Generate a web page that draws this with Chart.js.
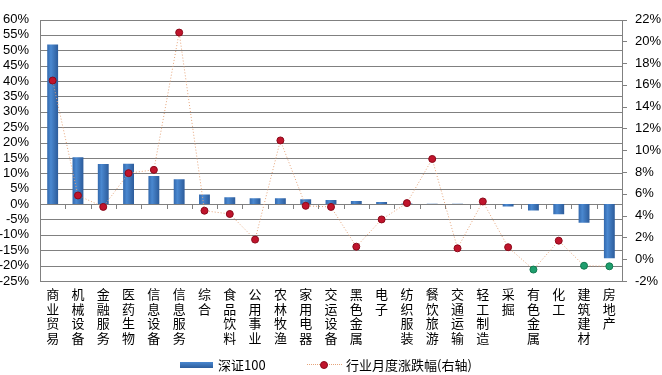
<!DOCTYPE html>
<html>
<head>
<meta charset="utf-8">
<script src="https://cdn.jsdelivr.net/npm/chart.js@4"></script>
<style>
  html, body { margin: 0; padding: 0; background: #fff; }
  #wrap { position: relative; width: 662px; height: 375px; }
  #legend { position: absolute; left: 0; top: 0; width: 662px; height: 375px; pointer-events: none;
            font-family: "Noto Sans CJK SC", "Noto Sans", sans-serif; font-size: 13px; color: #000; }
  .lg { position: absolute; }
</style>
</head>
<body>
<div id="wrap">
  <canvas id="chart" width="662" height="375"></canvas>
  <div id="legend">
    <div class="lg" style="left:180px;top:362px;width:33px;height:6px;background:linear-gradient(#4a88d0,#2c5d9c);"></div>
    <div class="lg" style="left:218px;top:355px;line-height:19px;">深证100</div>
    <div class="lg" style="left:307px;top:364px;width:35px;height:0;border-top:1px dotted #e5a47a;"></div>
    <div class="lg" style="left:320px;top:361px;width:6px;height:6px;border-radius:50%;background:#c0142c;border:1px solid #8a0a1a;"></div>
    <div class="lg" style="left:346px;top:355px;line-height:19px;">行业月度涨跌幅(右轴)</div>
  </div>
</div>
<script>
const categories = ['商业贸易', '机械设备', '金融服务', '医药生物', '信息设备', '信息服务', '综合',
  '食品饮料', '公用事业', '农林牧渔', '家用电器', '交运设备', '黑色金属', '电子', '纺织服装',
  '餐饮旅游', '交通运输', '轻工制造', '采掘', '有色金属', '化工', '建筑建材', '房地产'];

// 深证100 (left axis, %)
const szIndex = [51.9, 15.2, 13.0, 13.1, 9.1, 8.1, 3.1, 2.2, 1.9, 1.9, 1.6, 1.3, 1.0, 0.7, 0.2,
  0.1, 0.1, 0.05, -0.8, -2.1, -3.3, -6.1, -17.6];

// 行业月度涨跌幅 (right axis, %)
const industryChange = [16.4, 5.85, 4.8, 7.9, 8.2, 20.8, 4.45, 4.15, 1.8, 10.9, 4.9, 4.8, 1.15,
  3.65, 5.15, 9.2, 1.0, 5.3, 1.1, -0.95, 1.7, -0.6, -0.65];

const leftTicks = { min: -25, max: 60, step: 5 };
const rightTicks = { min: -2, max: 22, step: 2 };

const gridColor = '#808080';

function tickValues(t) {
  const out = [];
  for (let v = t.min; v <= t.max + 1e-9; v += t.step) out.push(v);
  return out;
}

// grid lines, axis lines and the small marks on the 0% line
const gridPlugin = {
  id: 'gridPlugin',
  beforeDatasetsDraw(chart) {
    const xs = chart.scales.x, ys = chart.scales.y, y1 = chart.scales.y1, ctx = chart.ctx;
    const a = chart.chartArea;
    const L = Math.round(a.left), R = Math.round(a.right);
    const T = Math.round(a.top), B = Math.round(a.bottom);
    ctx.save();
    ctx.fillStyle = gridColor;
    tickValues(leftTicks).forEach(v => {
      const y = Math.round(ys.getPixelForValue(v));
      ctx.fillRect(L, y, R - L + 1, 1);
    });
    tickValues(rightTicks).forEach(v => {
      const y = Math.round(y1.getPixelForValue(v));
      ctx.fillRect(R, y, 5, 1);
    });
    ctx.fillRect(L, T, 1, B - T + 1);
    ctx.fillRect(R, T, 1, B - T + 1);
    const y0 = Math.round(ys.getPixelForValue(0));
    const step = xs.width / categories.length;
    for (let i = 1; i < categories.length; i++) {
      const x = Math.round(xs.getPixelForValue(i) - step / 2);
      ctx.fillRect(x, y0, 1, 5);
    }
    ctx.restore();
  }
};

function barFill(c) {
  const chart = c.chart;
  const xs = chart.scales.x;
  if (c.type !== 'data' || !xs) return '#3a75c4';
  const cx = xs.getPixelForValue(c.dataIndex);
  if (!isFinite(cx)) return '#3a75c4';
  const g = chart.ctx.createLinearGradient(cx - 6, 0, cx + 6, 0);
  g.addColorStop(0, '#2f64a8');
  g.addColorStop(0.35, '#4a88d0');
  g.addColorStop(1, '#2a5896');
  return g;
}

new Chart(document.getElementById('chart'), {
  data: {
    labels: categories.map(s => s.split('')),
    datasets: [
      {
        type: 'line',
        label: '行业月度涨跌幅(右轴)',
        data: industryChange,
        yAxisID: 'y1',
        borderColor: '#e5a47a',
        borderWidth: 1,
        borderDash: [1, 2],
        tension: 0,
        pointRadius: 3.5,
        pointBorderWidth: 1,
        pointBackgroundColor: c => industryChange[c.dataIndex] < 0 ? '#1f9e6e' : '#c0142c',
        pointBorderColor: c => industryChange[c.dataIndex] < 0 ? '#137a50' : '#8a0a1a',
        order: 0
      },
      {
        type: 'bar',
        label: '深证100',
        data: szIndex,
        yAxisID: 'y',
        backgroundColor: barFill,
        barPercentage: 0.43,
        categoryPercentage: 1,
        order: 1
      }
    ]
  },
  options: {
    responsive: false,
    animation: false,
    layout: { padding: { top: 9, left: 0, right: 0, bottom: 0 } },
    plugins: { legend: { display: false }, tooltip: { enabled: false } },
    scales: {
      x: {
        offset: true,
        grid: { display: false, drawTicks: false },
        border: { display: false },
        ticks: {
          autoSkip: false,
          maxRotation: 0,
          minRotation: 0,
          padding: 6,
          color: '#000',
          font: { family: '"Noto Sans CJK SC", sans-serif', size: 13, lineHeight: 1.12 }
        },
        afterFit(s) { s.height = 94; }
      },
      y: {
        position: 'left',
        min: leftTicks.min,
        max: leftTicks.max,
        grid: { display: false },
        border: { display: false },
        ticks: {
          stepSize: leftTicks.step,
          autoSkip: false,
          padding: 3,
          color: '#000',
          font: { family: '"Liberation Sans", Arial, sans-serif', size: 13, lineHeight: 1 },
          callback: v => v + '%'
        },
        afterFit(s) { s.width = 40; }
      },
      y1: {
        position: 'right',
        min: rightTicks.min,
        max: rightTicks.max,
        grid: { display: false, drawTicks: false },
        border: { display: false },
        ticks: {
          stepSize: rightTicks.step,
          autoSkip: false,
          padding: 13,
          color: '#000',
          font: { family: '"Liberation Sans", Arial, sans-serif', size: 13, lineHeight: 1 },
          callback: v => v + '%'
        },
        afterFit(s) { s.width = 40; }
      }
    }
  },
  plugins: [gridPlugin]
});
</script>
</body>
</html>
